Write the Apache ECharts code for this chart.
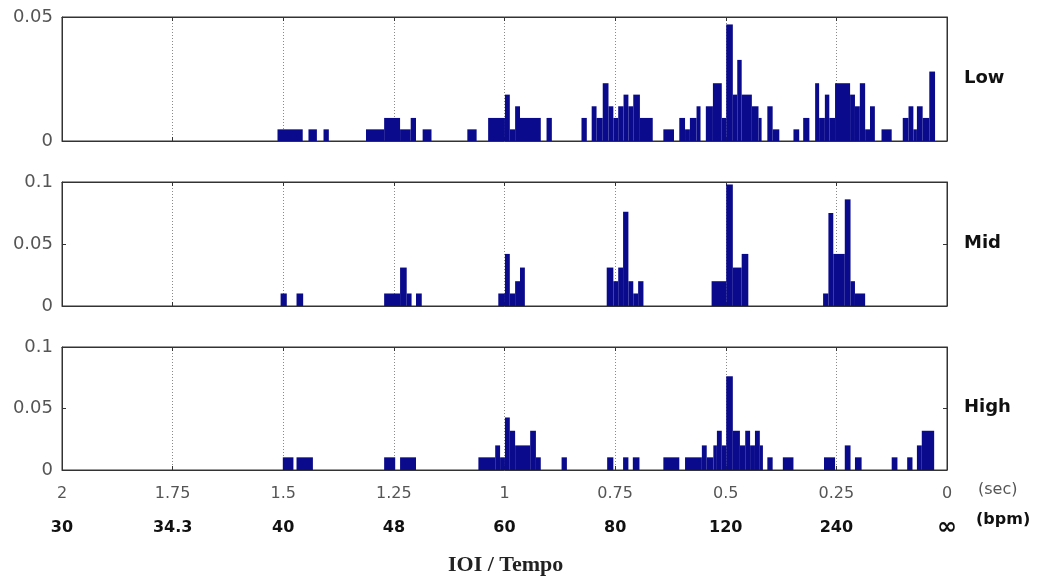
<!DOCTYPE html>
<html>
<head>
<meta charset="utf-8">
<script src="https://cdn.jsdelivr.net/npm/echarts@6/dist/echarts.min.js"></script>
<style>
  html, body { margin: 0; padding: 0; background: #fff; }
  #chart { width: 1046px; height: 581px; }
</style>
</head>
<body>
<div id="chart"></div>
<script>
// Histogram bars: [fromSec, toSec, value]
const lowBars = [
  [1.513, 1.456, 0.0047], [1.443, 1.424, 0.0047], [1.409, 1.397, 0.0047],
  [1.313, 1.272, 0.0047], [1.272, 1.236, 0.0093], [1.236, 1.212, 0.0047],
  [1.212, 1.200, 0.0093], [1.185, 1.165, 0.0047],
  [1.084, 1.063, 0.0047], [1.037, 0.999, 0.0093], [0.999, 0.988, 0.0187],
  [0.988, 0.976, 0.0047], [0.976, 0.965, 0.014], [0.965, 0.918, 0.0093],
  [0.905, 0.893, 0.0093],
  [0.826, 0.814, 0.0093], [0.803, 0.792, 0.014], [0.792, 0.778, 0.0093],
  [0.778, 0.765, 0.0233], [0.765, 0.754, 0.014], [0.754, 0.743, 0.0093],
  [0.743, 0.731, 0.014], [0.731, 0.720, 0.0187], [0.720, 0.709, 0.014],
  [0.709, 0.694, 0.0187], [0.694, 0.665, 0.0093], [0.641, 0.617, 0.0047],
  [0.605, 0.592, 0.0093], [0.592, 0.581, 0.0047], [0.581, 0.566, 0.0093],
  [0.566, 0.557, 0.014],
  [0.545, 0.529, 0.014], [0.529, 0.509, 0.0233], [0.509, 0.499, 0.0093],
  [0.499, 0.484, 0.047], [0.484, 0.474, 0.0187], [0.474, 0.464, 0.0327],
  [0.464, 0.441, 0.0187], [0.441, 0.426, 0.014], [0.426, 0.419, 0.0093],
  [0.406, 0.394, 0.014], [0.394, 0.379, 0.0047], [0.347, 0.334, 0.0047],
  [0.325, 0.311, 0.0093],
  [0.298, 0.289, 0.0233], [0.289, 0.276, 0.0093], [0.276, 0.266, 0.0187],
  [0.266, 0.253, 0.0093], [0.253, 0.219, 0.0233], [0.219, 0.208, 0.0187],
  [0.208, 0.197, 0.014], [0.197, 0.185, 0.0233], [0.185, 0.174, 0.0047],
  [0.174, 0.163, 0.014], [0.148, 0.125, 0.0047],
  [0.100, 0.087, 0.0093], [0.087, 0.076, 0.014], [0.076, 0.068, 0.0047],
  [0.068, 0.055, 0.014], [0.055, 0.040, 0.0093], [0.040, 0.027, 0.028]
];
const midBars = [
  [1.506, 1.492, 0.0101], [1.470, 1.455, 0.0101],
  [1.272, 1.236, 0.0101], [1.236, 1.221, 0.031], [1.221, 1.210, 0.0101],
  [1.200, 1.187, 0.0101],
  [1.014, 0.999, 0.0101], [0.999, 0.988, 0.042], [0.988, 0.976, 0.0101],
  [0.976, 0.965, 0.020], [0.965, 0.954, 0.031],
  [0.769, 0.754, 0.031], [0.754, 0.743, 0.020], [0.743, 0.732, 0.031],
  [0.732, 0.720, 0.076], [0.720, 0.709, 0.020], [0.709, 0.698, 0.0101],
  [0.698, 0.686, 0.020],
  [0.532, 0.499, 0.020], [0.499, 0.484, 0.098], [0.484, 0.464, 0.031],
  [0.464, 0.449, 0.042],
  [0.280, 0.268, 0.0101], [0.268, 0.257, 0.075], [0.257, 0.231, 0.042],
  [0.231, 0.218, 0.086], [0.218, 0.208, 0.020], [0.208, 0.185, 0.0101]
];
const highBars = [
  [1.501, 1.477, 0.0103], [1.470, 1.433, 0.0103],
  [1.272, 1.247, 0.0103], [1.236, 1.200, 0.0103],
  [1.059, 1.021, 0.0103], [1.021, 1.010, 0.020], [1.010, 0.999, 0.0103],
  [0.999, 0.988, 0.0427], [0.988, 0.976, 0.0319], [0.976, 0.942, 0.020],
  [0.942, 0.929, 0.0319], [0.929, 0.918, 0.0103],
  [0.871, 0.859, 0.0103], [0.768, 0.754, 0.0103], [0.732, 0.720, 0.0103],
  [0.710, 0.695, 0.0103], [0.641, 0.605, 0.0103],
  [0.592, 0.554, 0.0103], [0.554, 0.543, 0.020], [0.543, 0.528, 0.0103],
  [0.528, 0.520, 0.020], [0.520, 0.509, 0.0319], [0.509, 0.499, 0.020],
  [0.499, 0.484, 0.0762], [0.484, 0.468, 0.0319], [0.468, 0.456, 0.020],
  [0.456, 0.445, 0.0319], [0.445, 0.434, 0.020], [0.434, 0.423, 0.0319],
  [0.423, 0.416, 0.020],
  [0.406, 0.394, 0.0103], [0.371, 0.347, 0.0103],
  [0.278, 0.253, 0.0103], [0.231, 0.218, 0.020], [0.208, 0.193, 0.0103],
  [0.125, 0.112, 0.0103], [0.090, 0.078, 0.0103], [0.068, 0.057, 0.020],
  [0.057, 0.029, 0.0319]
];

const secTicks = [2, 1.75, 1.5, 1.25, 1, 0.75, 0.5, 0.25, 0];
const secLabels = ['2', '1.75', '1.5', '1.25', '1', '0.75', '0.5', '0.25', '0'];
const bpmLabels = ['30', '34.3', '40', '48', '60', '80', '120', '240', '\u221E'];
const panelNames = ['Low', 'Mid', 'High'];
const yMax = [0.05, 0.1, 0.1];
const panelData = [lowBars, midBars, highBars];

const panels = [
  { top: 17, height: 124 },
  { top: 182, height: 124 },
  { top: 347, height: 123 }
];
const BAR_COLOR = '#0a0a8c';
const NUM_FONT = 'DejaVu Sans';

const chart = echarts.init(document.getElementById('chart'), null, { renderer: 'canvas' });

function renderItem(params, api) {
  const p0 = api.coord([api.value(0), api.value(2)]);
  const p1 = api.coord([api.value(1), 0]);
  const x = Math.min(p0[0], p1[0]);
  const w = Math.abs(p1[0] - p0[0]);
  return {
    type: 'rect',
    shape: { x: x, y: p0[1], width: w, height: p1[1] - p0[1] },
    style: { fill: BAR_COLOR }
  };
}

const grid = [], xAxis = [], yAxis = [], series = [];
panels.forEach((p, i) => {
  grid.push({
    left: 62, width: 885, top: p.top, height: p.height,
    show: true, borderColor: '#333', borderWidth: 1, backgroundColor: '#fff'
  });
  const isLast = i === panels.length - 1;
  xAxis.push({
    type: 'value', gridIndex: i, position: 'bottom', inverse: true,
    min: 0, max: 2, interval: 0.25,
    axisLine: { show: true, onZero: false, lineStyle: { color: '#333', width: 1 } },
    axisTick: { show: true, inside: true, length: 4, lineStyle: { color: '#333' } },
    splitLine: { show: true, lineStyle: { color: '#8a8a8a', type: [1, 2], width: 1 } },
    axisLabel: {
      show: isLast, margin: 13, showMinLabel: true, showMaxLabel: true,
      formatter: function (v) {
        const k = secTicks.findIndex(t => Math.abs(t - v) < 1e-6);
        if (k < 0) return '';
        const bpmStyle = k === secTicks.length - 1 ? 'c' : 'b';
        return '{a|' + secLabels[k] + '}\n{' + bpmStyle + '|' + bpmLabels[k] + '}';
      },
      rich: {
        a: { fontFamily: NUM_FONT, fontSize: 16, color: '#555', lineHeight: 22, align: 'center' },
        b: { fontFamily: NUM_FONT, fontSize: 16, fontWeight: 'bold', color: '#111', lineHeight: 46, align: 'center' },
        c: { fontFamily: NUM_FONT, fontSize: 24, fontWeight: 'bold', color: '#111', lineHeight: 46, align: 'center' }
      }
    }
  });
  xAxis.push({
    type: 'value', gridIndex: i, position: 'top', inverse: true,
    min: 0, max: 2, interval: 0.25,
    axisLine: { show: true, onZero: false, lineStyle: { color: '#333', width: 1 } },
    axisTick: { show: true, inside: true, length: 4, lineStyle: { color: '#333' } },
    splitLine: { show: false },
    axisLabel: { show: false }
  });
  yAxis.push({
    type: 'value', gridIndex: i, position: 'left', min: 0, max: yMax[i], interval: 0.05,
    axisLine: { show: true, onZero: false, lineStyle: { color: '#333', width: 1 } },
    axisTick: { show: true, inside: true, length: 4, lineStyle: { color: '#333' } },
    splitLine: { show: false },
    axisLabel: { show: true, margin: 9, fontFamily: NUM_FONT, fontSize: 18, color: '#555',
      formatter: v => String(Math.round(v * 100) / 100) }
  });
  yAxis.push({
    type: 'value', gridIndex: i, position: 'right', min: 0, max: yMax[i], interval: 0.05,
    axisLine: { show: true, onZero: false, lineStyle: { color: '#333', width: 1 } },
    axisTick: { show: true, inside: true, length: 4, lineStyle: { color: '#333' } },
    splitLine: { show: false },
    axisLabel: { show: false }
  });
  series.push({
    type: 'custom', name: panelNames[i],
    xAxisIndex: 2 * i, yAxisIndex: 2 * i,
    renderItem: renderItem,
    encode: { x: [0, 1], y: 2 },
    data: panelData[i],
    silent: true, animation: false
  });
});

const graphic = [];
panels.forEach((p, i) => {
  graphic.push({
    type: 'text', left: 964, top: p.top + p.height / 2 - 10,
    style: { text: panelNames[i], font: 'bold 18px "DejaVu Sans"', fill: '#111' }
  });
});
graphic.push({ type: 'text', left: 978, top: 482, style: { text: '(sec)', font: '16px "DejaVu Sans"', fill: '#555' } });
graphic.push({ type: 'text', left: 976, top: 512, style: { text: '(bpm)', font: 'bold 16px "DejaVu Sans"', fill: '#111' } });
graphic.push({ type: 'text', left: 448, top: 554, style: { text: 'IOI / Tempo', font: 'bold 22px "Liberation Serif"', fill: '#222' } });

chart.setOption({
  backgroundColor: '#fff',
  animation: false,
  grid: grid, xAxis: xAxis, yAxis: yAxis, series: series, graphic: graphic
});
</script>
</body>
</html>
